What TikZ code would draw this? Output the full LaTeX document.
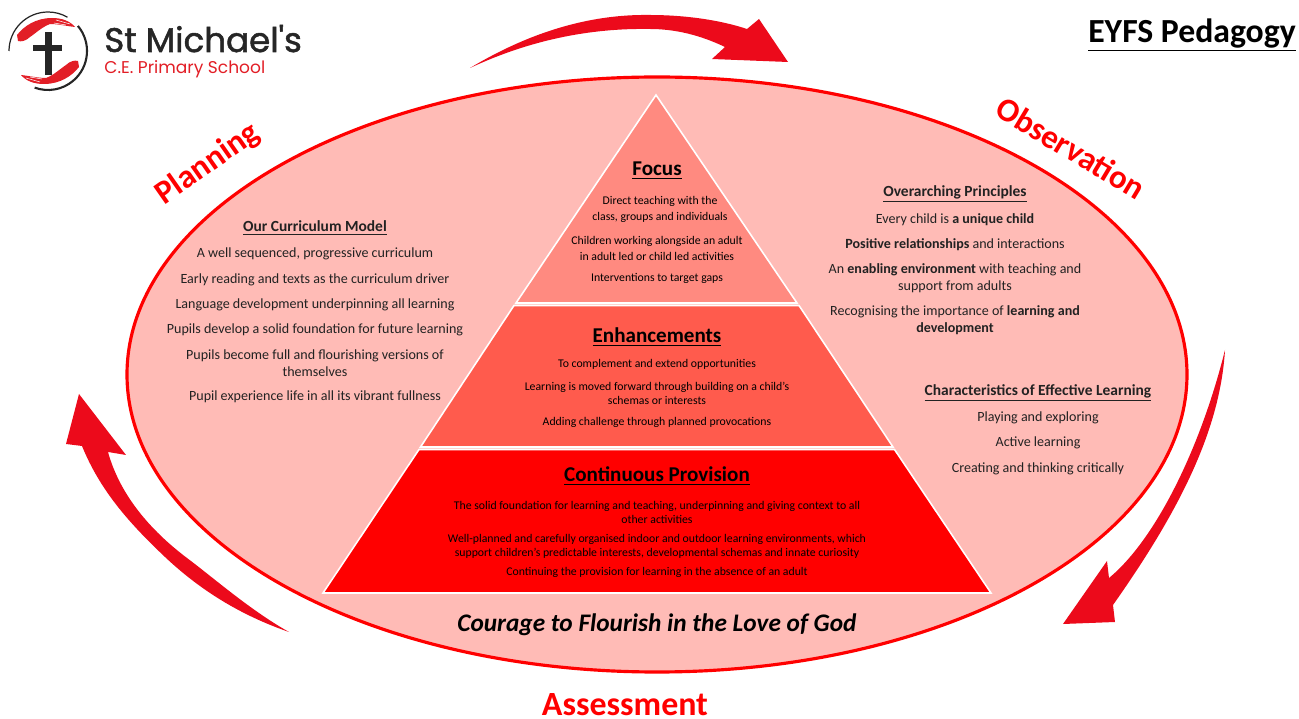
\documentclass[tikz,border=0pt]{standalone}
\usepackage{fontspec}
\setmainfont{Carlito}
\newfontfamily\logofont{Poppins}[FakeBold=1.5]
\newfontfamily\logolight{Poppins}
\definecolor{ovalfill}{HTML}{FFBBB6}
\definecolor{focusfill}{HTML}{FF8A80}
\definecolor{enhancefill}{HTML}{FF5B4D}
\definecolor{arrowred}{HTML}{EC0A1B}
\definecolor{logored}{HTML}{E21E26}
\definecolor{sidetext}{HTML}{222222}
\tikzset{
  sideline/.style={align=center, inner sep=0pt, yshift=-1.1pt, text=sidetext, font=\fontsize{8}{9.7}\selectfont},
  sidehead/.style={align=center, inner sep=0pt, yshift=-1.1pt, text=sidetext, font=\fontsize{8.8}{10}\selectfont\bfseries},
  pyrline/.style={align=center, inner sep=0pt, yshift=-0.8pt, font=\fontsize{6.7}{8.9}\selectfont},
  pyrhead/.style={inner sep=0pt, yshift=-1.1pt, font=\fontsize{12}{14}\selectfont\bfseries},
  cyclelabel/.style={inner sep=0pt, text=red, font=\fontsize{18.8}{21}\selectfont\bfseries},
  layer/.style={draw=white, line width=0.9pt, line join=miter}
}
\begin{document}
\begin{tikzpicture}[x=0.02cm, y=-0.02cm]
      \useasboundingbox (0,0) rectangle (1299,719);
      \filldraw [fill=ovalfill, draw=red, line width=1.8pt] (657,374.5) ellipse [x radius=530, y radius=297.5];
      \filldraw [layer, fill=focusfill] (656,95) -- (797,303) -- (516,303) -- cycle;
      \filldraw [layer, fill=enhancefill] (514,305.5) -- (799,305.5) -- (893,447) -- (420.5,447) -- cycle;
      \filldraw [layer, fill=red] (419,449.5) -- (894.5,449.5) -- (991,593) -- (323,593) -- cycle;

      \fill [arrowred] (470,68) .. controls (530,32) and (590,14) .. (650,15) .. controls (685,15) and (720,20) .. (747,29)
        -- (759,19) -- (788,62) -- (712,59) -- (725,47) .. controls (700,35) and (675,29) .. (650,29) .. controls (590,28) and (530,40) .. (470,68) -- cycle;
      \fill [arrowred] (1225,350) .. controls (1220,430) and (1180,510) .. (1113,605)
        -- (1115,622) -- (1063,624) -- (1107,561) -- (1109,578) .. controls (1155,540) and (1200,450) .. (1225,350) -- cycle;
      \fill [arrowred] (289,632) .. controls (240,615) and (200,590) .. (165,557) .. controls (128,522) and (100,490) .. (82,446)
        -- (66,444) -- (79,394) -- (126,455) -- (108,452) .. controls (120,495) and (150,530) .. (187,558) .. controls (215,579) and (250,610) .. (289,632) -- cycle;

      \node [cyclelabel, rotate=35] (planning) at (208,164) {Planning};
      \node [cyclelabel, rotate=-31] (observation) at (1071,148) {Observation};
      \node [cyclelabel, font=\fontsize{19.3}{21}\selectfont\bfseries] (assessment) at (625,705) {Assessment};
      \node [inner sep=0pt, font=\fontsize{19.2}{21}\selectfont\bfseries] (title) at (1192,35) {\underline{EYFS Pedagogy}};

      \node [sidehead] (modelhead) at (315,226) {\underline{Our Curriculum Model}};
      \node [sideline] (model1) at (315,252) {A well sequenced, progressive curriculum};
      \node [sideline] (model2) at (315,278) {Early reading and texts as the curriculum driver};
      \node [sideline] (model3) at (315,303) {Language development underpinning all learning};
      \node [sideline] (model4) at (315,328) {Pupils develop a solid foundation for future learning};
      \node [sideline] (model5) at (315,361) {Pupils become full and flourishing versions of\\themselves};
      \node [sideline] (model6) at (315,395) {Pupil experience life in all its vibrant fullness};

      \node [sidehead] (princhead) at (955,192) {\underline{Overarching Principles}};
      \node [sideline] (princ1) at (955,218) {Every child is \textbf{a unique child}};
      \node [sideline] (princ2) at (955,243) {\textbf{Positive relationships} and interactions};
      \node [sideline] (princ3) at (955,276) {An \textbf{enabling environment} with teaching and\\support from adults};
      \node [sideline] (princ4) at (955,318) {Recognising the importance of \textbf{learning and}\\\textbf{development}};

      \node [sidehead] (charhead) at (1038,391) {\underline{Characteristics of Effective Learning}};
      \node [sideline] (char1) at (1038,416) {Playing and exploring};
      \node [sideline] (char2) at (1038,441) {Active learning};
      \node [sideline] (char3) at (1038,467) {Creating and thinking critically};

      \node [pyrhead] (focushead) at (657,169) {\underline{Focus}};
      \node [pyrline] (focus1) at (660,208) {Direct teaching with the\\class, groups and individuals};
      \node [pyrline] (focus2) at (657,247) {Children working alongside an adult\\in adult led or child led activities};
      \node [pyrline] (focus3) at (657,277) {Interventions to target gaps};

      \node [pyrhead] (enhancehead) at (657,335) {\underline{Enhancements}};
      \node [pyrline] (enhance1) at (657,363) {To complement and extend opportunities};
      \node [pyrline] (enhance2) at (657,392) {Learning is moved forward through building on a child's\\[-1pt]schemas or interests};
      \node [pyrline] (enhance3) at (657,421) {Adding challenge through planned provocations};

      \node [pyrhead] (provhead) at (657,474) {\underline{Continuous Provision}};
      \node [pyrline] (prov1) at (657,511) {The solid foundation for learning and teaching, underpinning and giving context to all\\[-1pt]other activities};
      \node [pyrline] (prov2) at (657,545) {Well-planned and carefully organised indoor and outdoor learning environments, which\\[-1pt]support children's predictable interests, developmental schemas and innate curiosity};
      \node [pyrline] (prov3) at (657,571) {Continuing the provision for learning in the absence of an adult};

      \node [inner sep=0pt, yshift=-1pt, font=\fontsize{14.4}{16}\selectfont\bfseries\itshape] (motto) at (657,623) {Courage to Flourish in the Love of God};

      \draw [black!85, line width=0.7pt] ([shift={(180:39)}]48,51) arc [start angle=180, end angle=300, radius=39];
      \draw [black!85, line width=1.2pt] ([shift={(-40:39)}]48,51) arc [start angle=-40, end angle=110, radius=39];
      \foreach \ang in {0,180} {
        \fill [logored, rotate around={\ang:(48,51)}] (17,35) .. controls (24,26) and (36,18) .. (52,18) .. controls (62,18) and (70,21) .. (75,27)
          .. controls (66,26) and (58,24) .. (50,24) .. controls (42,27) and (36,33) .. (30,37) .. controls (26,41) and (21,42) .. (18,41) -- cycle;
        \draw [white, line width=0.3pt, rotate around={\ang:(48,51)}] (56,20) -- (70,24) (54,23) -- (66,25);
      }
      \fill [black!85] (45,32) rectangle (51.5,75);
      \fill [black!85] (33,45.5) rectangle (62,51.5);

      \node [anchor=base west, inner sep=0pt, text=black!85, font=\logofont\fontsize{19.4}{21}\selectfont] (schoolname) at (104,52) {St Michael's};
      \node [anchor=base west, inner sep=0pt, text=logored, font=\logolight\fontsize{9.7}{11}\selectfont] (schoolsub) at (104,74) {C.E. Primary School};
\end{tikzpicture}
\end{document}
